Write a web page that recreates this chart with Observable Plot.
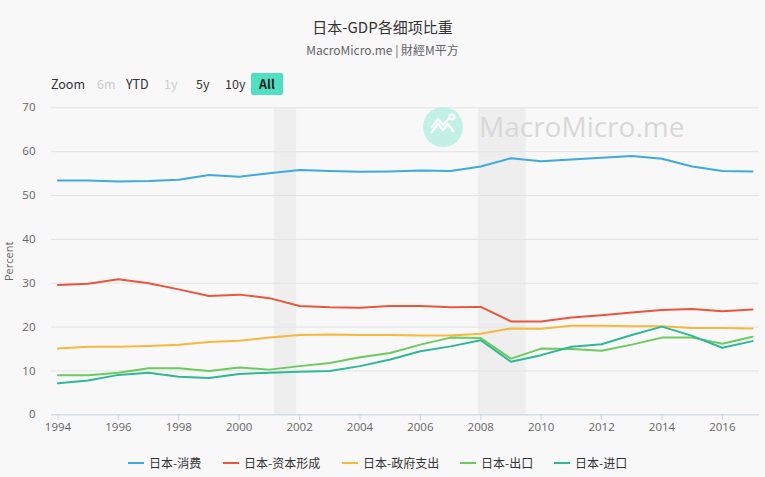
<!DOCTYPE html>
<html>
<head>
<meta charset="utf-8">
<script src="https://cdn.jsdelivr.net/npm/d3@7"></script>
<script src="https://cdn.jsdelivr.net/npm/@observablehq/plot@0.6"></script>
<style>
  html, body { margin: 0; padding: 0; background: #f8f8f8; }
  #chart { position: relative; width: 765px; height: 477px; background: #f8f8f8; overflow: hidden;
    font-family: "Noto Sans CJK TC", "Noto Sans", sans-serif; }
  .abs { position: absolute; white-space: nowrap; }
  #title { top: 16px; left: 0; width: 765px; text-align: center; font-size: 15px; color: #333; }
  #subtitle { top: 41px; left: 0; width: 765px; text-align: center; font-size: 12px; color: #666; }
  .zb { top: 74px; font-size: 12.5px; color: #333; line-height: 20px; }
  .zb.dis { color: #ccc; }
  #all { top: 73px; left: 251px; width: 32px; height: 22px; line-height: 22px; text-align: center;
    background: #4fe0c1; border-radius: 2px; font-weight: bold; color: #222; font-size: 12.5px; }
  #plot { position: absolute; top: 95px; left: 0; }
  #wm-text { top: 107px; left: 479px; font-family: "Open Sans", sans-serif; font-size: 28px; color: #d8d8d8; }
  #wm-icon { position: absolute; top: 106px; left: 422px; }
  .leg { top: 454px; font-size: 12px; color: #333; display: flex; align-items: center; }
  .leg span.sw { display: inline-block; width: 16px; height: 2px; margin-right: 5px; }
</style>
</head>
<body>
<div id="chart">
  <div id="title" class="abs">日本-GDP各细项比重</div>
  <div id="subtitle" class="abs">MacroMicro.me | 財經M平方</div>
  <div class="abs zb" style="left:51px">Zoom</div>
  <div class="abs zb dis" style="left:97px">6m</div>
  <div class="abs zb" style="left:126px">YTD</div>
  <div class="abs zb dis" style="left:164px">1y</div>
  <div class="abs zb" style="left:196px">5y</div>
  <div class="abs zb" style="left:225px">10y</div>
  <div id="all" class="abs">All</div>
  <div id="plot"></div>
  <svg id="wm-icon" width="42" height="42" viewBox="0 0 42 42">
    <circle cx="21" cy="21" r="20" fill="#c3f0e6"/>
    <path d="M9 27 L16 18 L21 24 L26 18 L32 26" fill="none" stroke="#fff" stroke-width="2.2"/>
    <path d="M9 22 L16 13 L21 19 L27 12" fill="none" stroke="#fff" stroke-width="2.2"/>
    <circle cx="30" cy="11" r="2.5" fill="none" stroke="#fff" stroke-width="1.8"/>
  </svg>
  <div id="wm-text" class="abs">MacroMicro.me</div>
  <div id="legend"></div>
</div>
<script>
const years = [1994,1995,1996,1997,1998,1999,2000,2001,2002,2003,2004,2005,2006,2007,2008,2009,2010,2011,2012,2013,2014,2015,2016,2017];
const consumption = [53.4,53.4,53.2,53.3,53.6,54.7,54.3,55.1,55.8,55.6,55.4,55.5,55.7,55.6,56.6,58.5,57.8,58.2,58.6,59.0,58.4,56.6,55.6,55.5];
const capital = [29.6,29.9,30.9,30.0,28.6,27.1,27.4,26.6,24.8,24.5,24.4,24.8,24.8,24.5,24.6,21.3,21.3,22.2,22.7,23.3,23.9,24.1,23.6,24.0];
const government = [15.1,15.5,15.5,15.7,16.0,16.6,16.9,17.6,18.2,18.3,18.2,18.2,18.1,18.1,18.5,19.7,19.6,20.3,20.3,20.2,20.2,19.8,19.8,19.7];
const exportsShare = [9.0,9.0,9.6,10.6,10.6,10.0,10.8,10.3,11.1,11.8,13.1,14.1,16.0,17.6,17.5,12.8,15.1,15.0,14.6,16.0,17.6,17.6,16.2,17.8];
const importsShare = [7.2,7.8,9.1,9.6,8.7,8.4,9.3,9.6,9.8,10.0,11.1,12.6,14.5,15.6,17.0,12.1,13.6,15.5,16.1,18.2,20.1,18.0,15.3,16.8];
const seriesNames = ["日本-消费","日本-资本形成","日本-政府支出","日本-出口","日本-进口"];
const seriesColors = ["#3eaadf","#e9563b","#f6b83d","#6cca5e","#2fb896"];
const recessionStart = [2001.17, 2007.92];
const recessionEnd = [2001.9, 2009.5];
const yTicks = [0,10,20,30,40,50,60,70];
const xTicks = [1994,1996,1998,2000,2002,2004,2006,2008,2010,2012,2014,2016];

const seriesValues = [consumption, capital, government, exportsShare, importsShare];
const rows = [];
seriesNames.forEach((name, i) => {
  years.forEach((y, j) => rows.push({year: y, value: seriesValues[i][j], series: name}));
});
const bands = recessionStart.map((s, i) => ({x1: s, x2: recessionEnd[i]}));

const plot = Plot.plot({
  width: 765,
  height: 350,
  marginLeft: 51,
  marginRight: 6,
  marginTop: 12.3,
  marginBottom: 30.7,
  style: {background: "transparent", fontFamily: "'Open Sans', 'Noto Sans', sans-serif", fontSize: "11px", color: "#666"},
  x: {domain: [1993.785, 2017.23], label: null},
  y: {domain: [0, 70], label: null},
  color: {domain: seriesNames, range: seriesColors},
  marks: [
    Plot.rect(bands, {x1: "x1", x2: "x2", y1: 0, y2: 70, fill: "#eeeeee"}),
    Plot.gridY(yTicks, {stroke: "#e3e3e3", strokeOpacity: 1, strokeWidth: 1}),
    Plot.axisY(yTicks, {tickSize: 0, tickPadding: 16, fontSize: 11.5, fill: "#666", label: null}),
    Plot.ruleY([0], {stroke: "#ccd6eb"}),
    Plot.axisX(xTicks, {tickSize: 6, stroke: "#ccd6eb", tickPadding: 2, fontSize: 11.5, fill: "#666", tickFormat: d => String(d), label: null}),
    Plot.line(rows, {x: "year", y: "value", z: "series", stroke: "series", strokeWidth: 2, curve: "linear"}),
    Plot.text(["Percent"], {frameAnchor: "left", dx: -42, rotate: -90, fontSize: 11, fill: "#666", textAnchor: "middle"})
  ]
});
document.getElementById("plot").appendChild(plot);

const legendX = [128, 223, 342, 460, 554];
const legend = document.getElementById("legend");
seriesNames.forEach((name, i) => {
  const d = document.createElement("div");
  d.className = "abs leg";
  d.style.left = legendX[i] + "px";
  d.innerHTML = `<span class="sw" style="background:${seriesColors[i]}"></span>${name}`;
  legend.appendChild(d);
});
</script>
</body>
</html>
